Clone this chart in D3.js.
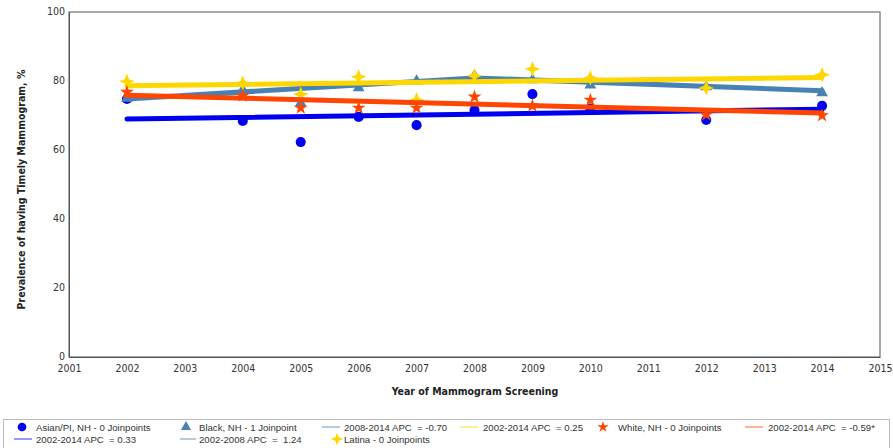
<!DOCTYPE html>
<html>
<head>
<meta charset="utf-8">
<script src="https://cdn.jsdelivr.net/npm/d3@7"></script>
<style>
  html, body { margin: 0; padding: 0; background: #fff; }
  svg { display: block; }
  .tick text { font-family: "DejaVu Sans Condensed", "DejaVu Sans", sans-serif; font-size: 10.5px; fill: #333; }
  .axis-title { font-family: "DejaVu Sans Condensed", "DejaVu Sans", sans-serif; font-size: 10.5px; font-weight: bold; fill: #222; }
  .legend text { font-family: "Liberation Sans", Arial, sans-serif; font-size: 9.6px; fill: #333; white-space: pre; }
</style>
</head>
<body>
<svg id="chart" width="893" height="448"></svg>
<script>
// Survey years and observed prevalence (%) by group
const years = [2002, 2004, 2005, 2006, 2007, 2008, 2009, 2010, 2012, 2014];
const asianValues  = [74.8, 68.4, 62.3, 69.6, 67.2, 71.6, 76.2, 72.0, 68.7, 72.8];
const blackValues  = [75.0, 77.4, 73.6, 78.0, 80.0, 81.6, 80.3, 78.8, 78.3, 76.6];
const latinaValues = [79.9, 79.4, 76.2, 81.2, 74.5, 81.5, 83.5, 80.9, 78.0, 81.8];
const whiteValues  = [76.8, 75.7, 72.2, 72.2, 72.2, 75.4, 72.8, 74.5, 70.2, 70.0];

// Joinpoint fitted segments: years and fitted values at the segment ends
const asianFitYears  = [2002, 2014];
const asianFit       = [69.0, 71.8];
const blackFitYears  = [2002, 2008, 2014];
const blackFit       = [74.8, 80.9, 77.2];
const latinaFitYears = [2002, 2014];
const latinaFit      = [78.6, 81.0];
const whiteFitYears  = [2002, 2014];
const whiteFit       = [75.9, 70.7];

// Axis ticks
const xTicks = [2001, 2002, 2003, 2004, 2005, 2006, 2007, 2008, 2009, 2010, 2011, 2012, 2013, 2014, 2015];
const yTicks = [0, 20, 40, 60, 80, 100];

// Legend entries
const legendLabels = [
  "Asian/PI, NH - 0 Joinpoints", "Black, NH - 1 Joinpoint", "2008-2014 APC  = -0.70",
  "2002-2014 APC  = 0.25", "White, NH - 0 Joinpoints", "2002-2014 APC  = -0.59*",
  "2002-2014 APC  = 0.33", "2002-2008 APC  =  1.24", "Latina - 0 Joinpoints"
];

const C = { asian: "#0000f0", black: "#4682b4", latina: "#ffd700", white: "#ff4500" };

// four-pointed star symbol
const star4 = {
  draw(ctx, size) {
    const r = Math.sqrt(size) * 0.75, k = r * 0.28;
    ctx.moveTo(0, -r);
    ctx.lineTo(k, -k); ctx.lineTo(r, 0); ctx.lineTo(k, k);
    ctx.lineTo(0, r); ctx.lineTo(-k, k); ctx.lineTo(-r, 0); ctx.lineTo(-k, -k);
    ctx.closePath();
  }
};

const svg = d3.select("#chart");
const x = d3.scaleLinear().domain([2001, 2015]).range([69, 880]);
const y = d3.scaleLinear().domain([0, 100]).range([357, 12]);

// plot frame
svg.append("rect").attr("x", x(2001)).attr("y", y(100))
  .attr("width", x(2015) - x(2001)).attr("height", y(0) - y(100))
  .attr("fill", "none").attr("stroke", "#555").attr("stroke-width", 1);

const xAxis = svg.append("g").attr("transform", `translate(0,${y(0)})`)
  .call(d3.axisBottom(x).tickValues(xTicks).tickFormat(d3.format("d")).tickSize(0).tickPadding(8));
xAxis.select(".domain").attr("stroke", "#555");

const yAxis = svg.append("g").attr("transform", `translate(${x(2001)},0)`)
  .call(d3.axisLeft(y).tickValues(yTicks).tickSize(0).tickPadding(4));
yAxis.select(".domain").attr("stroke", "#555");
yAxis.selectAll(".tick text").attr("dy", "0.2em");

svg.append("text").attr("class", "axis-title")
  .attr("x", 475).attr("y", 395).attr("text-anchor", "middle")
  .text("Year of Mammogram Screening");
svg.append("text").attr("class", "axis-title")
  .attr("transform", `translate(25,${y(50) + 5}) rotate(-90)`).attr("text-anchor", "middle")
  .text("Prevalence of having Timely Mammogram, %");

const line = d3.line().x(d => x(d[0])).y(d => y(d[1]));

const series = [
  { vals: asianValues,  fy: asianFitYears,  fv: asianFit,  color: C.asian,  sym: d3.symbolCircle,   size: 80 },
  { vals: blackValues,  fy: blackFitYears,  fv: blackFit,  color: C.black,  sym: d3.symbolTriangle, size: 60 },
  { vals: latinaValues, fy: latinaFitYears, fv: latinaFit, color: C.latina, sym: star4,             size: 110 },
  { vals: whiteValues,  fy: whiteFitYears,  fv: whiteFit,  color: C.white,  sym: d3.symbolStar,     size: 60 }
];

series.forEach(s => {
  svg.append("g").selectAll("path").data(years.map((yr, i) => [yr, s.vals[i]])).join("path")
    .attr("transform", d => `translate(${x(d[0])},${y(d[1])})`)
    .attr("d", d3.symbol().type(s.sym).size(s.size))
    .attr("fill", s.color);
  svg.append("path").datum(s.fy.map((yr, i) => [yr, s.fv[i]]))
    .attr("d", line).attr("fill", "none").attr("stroke", s.color)
    .attr("stroke-width", 5).attr("stroke-linecap", "round").attr("stroke-linejoin", "round");
});

// legend
const lg = svg.append("g").attr("class", "legend");
lg.append("rect").attr("x", 3.5).attr("y", 419.5).attr("width", 886).attr("height", 40)
  .attr("fill", "#fff").attr("stroke", "#bbb");

const legendItems = [
  { kind: "sym", sym: d3.symbolCircle, size: 60, color: C.asian, mx: 22, tx: 36, row: 0 },
  { kind: "sym", sym: d3.symbolTriangle, size: 45, color: C.black, mx: 186, tx: 199, row: 0 },
  { kind: "line", color: C.black, lx: [322, 340], tx: 344, row: 0 },
  { kind: "line", color: C.latina, lx: [460, 478], tx: 483, row: 0 },
  { kind: "sym", sym: d3.symbolStar, size: 40, color: C.white, mx: 603, tx: 618, row: 0 },
  { kind: "line", color: C.white, lx: [745, 763], tx: 768, row: 0 },
  { kind: "line", color: C.asian, lx: [14, 32], tx: 36, row: 1 },
  { kind: "line", color: C.black, lx: [180, 196], tx: 199, row: 1 },
  { kind: "sym", sym: star4, size: 70, color: C.latina, mx: 337, tx: 344, row: 1 }
];
const rowY = [427, 439];
legendItems.forEach((it, i) => {
  const yy = rowY[it.row];
  if (it.kind === "sym") {
    lg.append("path").attr("transform", `translate(${it.mx},${yy})`)
      .attr("d", d3.symbol().type(it.sym).size(it.size)).attr("fill", it.color);
  } else {
    lg.append("line").attr("x1", it.lx[0]).attr("x2", it.lx[1]).attr("y1", yy).attr("y2", yy)
      .attr("stroke", it.color).attr("stroke-width", 1).attr("opacity", 0.8);
  }
  lg.append("text").attr("x", it.tx).attr("y", yy + 3.5).text(legendLabels[i]);
});
</script>
</body>
</html>
